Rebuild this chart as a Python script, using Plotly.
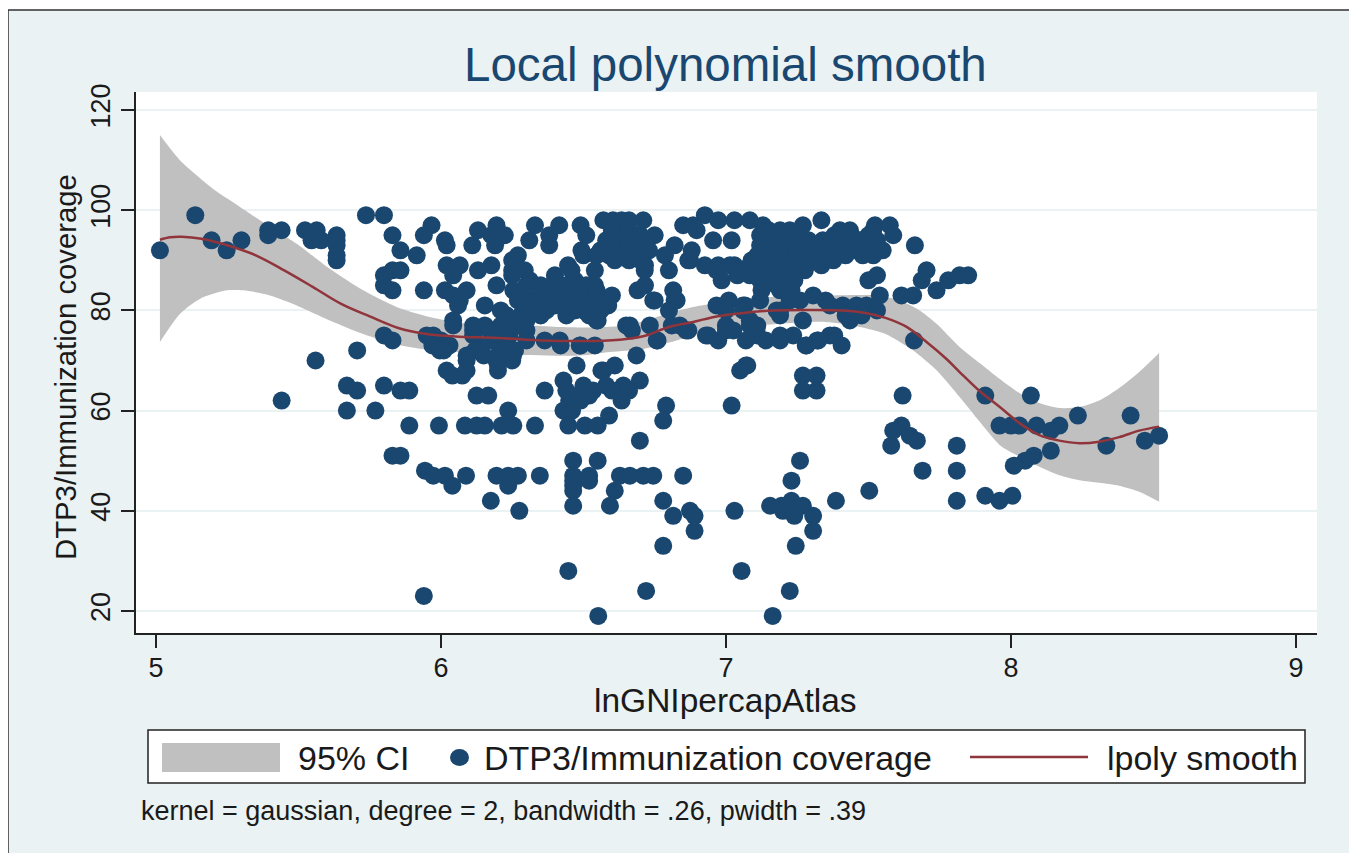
import plotly.graph_objects as go

TITLE = "Local polynomial smooth"
X_TITLE = "lnGNIpercapAtlas"
Y_TITLE = "DTP3/Immunization coverage"
NOTE = "kernel = gaussian, degree = 2, bandwidth = .26, pwidth = .39"
LEGEND_CI = "95% CI"
LEGEND_DOTS = "DTP3/Immunization coverage"
LEGEND_LINE = "lpoly smooth"
x_ticks = [5, 6, 7, 8, 9]
y_ticks = [20, 40, 60, 80, 100, 120]

# lnGNI values of the points, one list per coverage level
c99 = [5.138, 5.737, 5.80, 6.926]
c98 = [6.57, 6.604, 6.634, 6.66, 6.71, 6.973, 7.03, 7.084, 7.335]
c97 = [5.967, 6.195, 6.33, 6.415, 6.49, 6.85, 6.885, 7.13, 7.27, 7.523, 7.575]
c96 = [5.394, 5.441, 5.523, 5.564, 6.13, 6.6, 6.66, 6.897, 7.15, 7.19, 7.224, 7.40, 7.435, 7.517]
c95 = [5.394, 5.634, 5.83, 5.94, 6.177, 6.224, 6.38, 6.51, 6.6, 6.65, 6.7, 6.75, 7.12, 7.13, 7.178, 7.22, 7.25, 7.38, 7.44, 7.5, 7.587]
c94 = [5.195, 5.30, 5.546, 5.58, 5.634, 6.014, 6.31, 6.58, 6.62, 6.68, 6.72, 6.955, 7.02, 7.13, 7.17, 7.21, 7.25, 7.29, 7.34, 7.38, 7.41, 7.47, 7.53]
c93 = [5.634, 6.02, 6.11, 6.19, 6.38, 6.6, 6.66, 6.82, 7.12, 7.166, 7.21, 7.277, 7.32, 7.365, 7.435, 7.47, 7.663]
c92 = [5.014, 5.248, 5.858, 6.493, 6.56, 6.6, 6.65, 6.7, 6.73, 6.88, 7.14, 7.17, 7.21, 7.25, 7.3, 7.34, 7.38, 7.44, 7.49, 7.55]
c91 = [5.634, 5.915, 6.27, 6.5, 6.546, 6.59, 6.63, 6.68, 6.786, 7.11, 7.16, 7.2, 7.24, 7.31, 7.36, 7.42, 7.48, 7.517]
c90 = [5.634, 6.25, 6.61, 6.66, 6.7, 6.868, 6.874, 7.09, 7.142, 7.16, 7.2, 7.24, 7.29, 7.33, 7.377]
c89 = [6.02, 6.066, 6.177, 6.446, 6.716, 6.926, 6.973, 7.014, 7.03, 7.084, 7.107, 7.178, 7.2, 7.236, 7.28, 7.335]
c88 = [5.83, 5.858, 6.13, 6.25, 6.294, 6.458, 6.54, 6.715, 6.80, 6.967, 7.06, 7.1, 7.13, 7.17, 7.2, 7.24, 7.277, 7.704]
c87 = [5.80, 6.043, 6.25, 6.40, 7.04, 7.084, 7.13, 7.178, 7.2, 7.23, 7.53, 7.82, 7.85]
c86 = [6.312, 6.40, 6.47, 6.985, 7.12, 7.16, 7.2, 7.24, 7.50, 7.687, 7.78]
c85 = [5.80, 6.195, 6.3, 6.35, 6.44, 6.47, 6.51, 6.54, 6.716, 7.13, 7.178, 7.2, 7.224]
c84 = [5.83, 5.94, 6.014, 6.09, 6.254, 6.36, 6.417, 6.47, 6.546, 6.69, 6.815, 7.125, 7.19, 7.23, 7.739]
c83 = [6.043, 6.30, 6.36, 6.45, 6.49, 6.54, 6.6, 7.224, 7.306, 7.54, 7.616, 7.657]
c82 = [6.066, 6.27, 6.335, 6.40, 6.46, 6.5, 6.55, 6.745, 6.75, 6.82, 6.827, 7.01, 7.12, 7.224, 7.26, 7.35]
c81 = [6.06, 6.154, 6.31, 6.4, 6.45, 6.52, 6.58, 6.587, 6.967, 7.06, 7.067, 7.365, 7.41, 7.458, 7.493]
c80 = [6.21, 6.29, 6.37, 6.44, 6.47, 6.5, 6.534, 6.56, 6.80, 7.0, 7.06, 7.178, 7.19, 7.53]
c79 = [6.23, 6.28, 6.35, 6.44, 6.52, 7.19, 7.42, 7.476]
c78 = [6.043, 6.25, 6.3, 6.546, 6.55, 7.084, 7.27, 7.435]
c77 = [6.043, 6.113, 6.154, 6.21, 6.28, 6.65, 6.663, 6.733, 6.81, 6.838, 7.0, 7.084, 7.11]
c76 = [6.113, 6.17, 6.23, 6.3, 6.67, 6.86, 6.868, 7.0, 7.026, 7.107]
c75 = [5.80, 5.95, 5.973, 6.113, 6.24, 6.93, 6.938, 7.11, 7.19, 7.236, 7.365, 7.38]
c74 = [5.83, 6.0, 6.18, 6.23, 6.30, 6.364, 6.417, 6.757, 6.76, 6.973, 7.07, 7.14, 7.19, 7.32, 7.324, 7.66]
c73 = [5.97, 6.03, 6.14, 6.42, 6.487, 6.49, 6.54, 7.28, 7.283, 7.406]
c72 = [5.706, 5.996, 6.01, 6.12, 6.224, 6.26]
c71 = [6.09, 6.15, 6.2, 6.253, 6.686]
c70 = [5.56, 6.09, 6.195, 6.25]
c69 = [6.2, 6.476, 6.61, 7.07, 7.075]
c68 = [6.02, 6.09, 6.2, 6.563, 6.57, 7.05]
c67 = [6.04, 6.075, 7.27, 7.318]
c66 = [6.43, 6.698]
c65 = [5.67, 5.80, 6.5, 6.58, 6.64]
c64 = [5.706, 5.858, 5.889, 6.364, 6.44, 6.534, 6.6, 6.66, 7.27, 7.318]
c63 = [6.125, 6.166, 6.48, 6.52, 7.62, 7.91, 8.07]
c62 = [5.441, 6.45, 6.49, 6.634]
c61 = [6.45, 6.79, 7.02]
c60 = [5.67, 5.77, 6.236, 6.43, 6.46]
c59 = [6.59, 8.235, 8.42]
c58 = [6.78]
c57 = [5.889, 5.993, 6.084, 6.125, 6.154, 6.213, 6.254, 6.33, 6.447, 6.505, 6.55, 7.616, 7.96, 8.0, 8.03, 8.09, 8.17]
c56 = [7.587, 8.14]
c55 = [7.645, 8.52]
c54 = [6.698, 7.67, 8.47]
c53 = [7.58, 7.81, 8.335]
c52 = [8.14]
c51 = [5.83, 5.858, 8.08]
c50 = [6.464, 6.55, 7.26, 8.05]
c49 = [8.01]
c48 = [5.944, 7.69, 7.81]
c47 = [5.973, 6.014, 6.088, 6.195, 6.236, 6.27, 6.347, 6.464, 6.52, 6.628, 6.663, 6.71, 6.745, 6.85]
c46 = [6.464, 6.52, 7.23]
c45 = [6.04, 6.236, 6.464]
c44 = [6.464, 6.61, 7.503]
c43 = [7.91, 8.005]
c42 = [6.175, 6.78, 7.23, 7.386, 7.81, 7.96]
c41 = [6.464, 6.593, 7.155, 7.195, 7.27]
c40 = [6.275, 6.874, 7.03, 7.2, 7.23]
c39 = [6.815, 6.89, 7.24, 7.306]
c36 = [6.89, 7.306]
c33 = [6.78, 7.245]
c28 = [6.447, 7.055]
c24 = [6.72, 7.224]
c23 = [5.94]
c19 = [6.552, 7.164]

levels = {99: c99, 98: c98, 97: c97, 96: c96, 95: c95, 94: c94, 93: c93, 92: c92, 91: c91, 90: c90,
          89: c89, 88: c88, 87: c87, 86: c86, 85: c85, 84: c84, 83: c83, 82: c82, 81: c81, 80: c80,
          79: c79, 78: c78, 77: c77, 76: c76, 75: c75, 74: c74, 73: c73, 72: c72, 71: c71, 70: c70,
          69: c69, 68: c68, 67: c67, 66: c66, 65: c65, 64: c64, 63: c63, 62: c62, 61: c61, 60: c60,
          59: c59, 58: c58, 57: c57, 56: c56, 55: c55, 54: c54, 53: c53, 52: c52, 51: c51, 50: c50,
          49: c49, 48: c48, 47: c47, 46: c46, 45: c45, 44: c44, 43: c43, 42: c42, 41: c41, 40: c40,
          39: c39, 36: c36, 33: c33, 28: c28, 24: c24, 23: c23, 19: c19}

smooth_x = [5.014, 5.05, 5.09, 5.16, 5.25, 5.35, 5.45, 5.55, 5.65, 5.75, 5.85, 5.95, 6.05, 6.2, 6.35, 6.4175,
            6.534, 6.65, 6.72, 6.8, 6.885, 6.967, 7.06, 7.166, 7.295, 7.41, 7.49, 7.56, 7.634, 7.704, 7.774,
            7.82, 7.89, 7.961, 8.03, 8.10, 8.17, 8.24, 8.31, 8.38, 8.45, 8.52]
smooth_y = [94.1, 94.6, 94.7, 94.3, 93, 91, 88, 84.7, 81.3, 78.8, 76.5, 75.3, 74.8, 74.5, 74, 73.9,
            73.9, 74.3, 75, 76.7, 77.7, 78.8, 79.5, 80, 80.1, 80, 79.5, 78.5, 76.7, 73.7, 70.3,
            67.7, 63.9, 60.7, 57.5, 55.1, 54, 53.5, 53.8, 54.7, 56, 56.8]
upper_x = [5.014, 5.084, 5.207, 5.26, 5.365, 5.494, 5.61, 5.727, 5.844, 5.96, 6.078, 6.31, 6.42, 6.534, 6.65, 6.72,
           6.8, 6.885, 6.944, 7.06, 7.166, 7.35, 7.53, 7.61, 7.68, 7.74, 7.82, 7.89, 7.961, 8.03, 8.10, 8.17,
           8.24, 8.31, 8.38, 8.45, 8.52]
upper_y = [115, 110, 104, 102, 98, 93.3, 88.3, 84, 80.7, 78.7, 77.5, 77, 76.7, 76.6, 77, 78,
           79.5, 80.7, 81.3, 82.3, 82.7, 83, 83, 82, 80, 77.3, 72.7, 69.5, 66.3, 63.5, 61.5, 60.5,
           60.7, 62, 64.5, 67.7, 71.5]
lower_x = [5.014, 5.084, 5.154, 5.248, 5.306, 5.40, 5.494, 5.61, 5.727, 5.844, 5.96, 6.195, 6.488, 6.593, 6.71, 6.827,
           6.944, 7.06, 7.18, 7.35, 7.47, 7.56, 7.657, 7.74, 7.82, 7.89, 7.961, 8.03, 8.10, 8.17, 8.24, 8.31,
           8.38, 8.45, 8.52]
lower_y = [73.7, 79.3, 82.3, 84, 84, 83, 81, 78, 75.3, 73.2, 72.1, 71.3, 71, 71.7, 72.3, 74,
           76, 76.7, 77.3, 77.7, 76.7, 75.3, 72, 68, 62.7, 57.8, 53.1, 50.8, 48.8, 47.1, 46.1, 45.6,
           45, 43.8, 41.8]

point_x = [x for level, xs in levels.items() for x in xs]
point_y = [level for level, xs in levels.items() for _ in xs]

NAVY = "#1a476f"
GREY = "#c0c0c0"
MAROON = "#90353b"
BG = "#eaf2f3"
INK = "#1a1a1a"
FONT = "Liberation Sans"

PAGE_W, PAGE_H = 1357, 853
PAGE_MARGIN = 8                   # the page body sits 8 px in from the window corner
L, R, T, B = 136, 1317, 92, 633   # plot area in window pixels
px = lambda v: (v - L) / (R - L)
py = lambda v: (B - v) / (B - T)

fig = go.Figure()
fig.add_trace(go.Scatter(x=lower_x, y=lower_y, mode="lines", line=dict(width=0, shape="spline", smoothing=0.7),
                         hoverinfo="skip", showlegend=False))
fig.add_trace(go.Scatter(x=upper_x, y=upper_y, mode="lines", fill="tonexty", fillcolor=GREY,
                         line=dict(width=0, shape="spline", smoothing=0.7),
                         hoverinfo="skip", name=LEGEND_CI, showlegend=False))
fig.add_trace(go.Scatter(x=point_x, y=point_y, mode="markers", name=LEGEND_DOTS, showlegend=False,
                         marker=dict(color=NAVY, size=18, line=dict(width=0))))
fig.add_trace(go.Scatter(x=smooth_x, y=smooth_y, mode="lines", name=LEGEND_LINE, showlegend=False,
                         line=dict(color=MAROON, width=2.5, shape="spline")))


def rect(x0, y0, x1, y1, **kw):
    return dict(type="rect", xref="paper", yref="paper", x0=px(x0), x1=px(x1), y0=py(y0), y1=py(y1), **kw)


def label(x, y, text, size, anchor="left", color=INK):
    return dict(xref="paper", yref="paper", x=px(x), y=py(y), text=text, showarrow=False, xanchor=anchor,
                yanchor="middle", font=dict(family=FONT, size=size, color=color))


shapes = [
    rect(8, 10, 1353, 860, fillcolor=BG, line=dict(color="#333333", width=1.5), layer="below"),
    rect(L, T, R, B, fillcolor="white", line=dict(width=0), layer="below"),
    rect(148, 730, 1305, 783, fillcolor="white", line=dict(color="#222222", width=1.5)),
    rect(162, 743, 280, 772, fillcolor=GREY, line=dict(width=0)),
    dict(type="circle", xref="paper", yref="paper", x0=px(450), x1=px(469), y0=py(749), y1=py(766),
         fillcolor=NAVY, line=dict(width=0)),
    dict(type="line", xref="paper", yref="paper", x0=px(970), x1=px(1088), y0=py(757), y1=py(757),
         line=dict(color=MAROON, width=2.5)),
]
annotations = [
    label(296, 758, LEGEND_CI, 34),
    label(482, 758, LEGEND_DOTS, 34),
    label(1105, 758, LEGEND_LINE, 34),
    label(139, 811, NOTE, 27),
    label(725.5, 64, TITLE, 47.5, "center", NAVY),
    label(725.5, 700, X_TITLE, 33.5, "center"),
    dict(xref="paper", yref="paper", x=px(65), y=py(367), text=Y_TITLE, textangle=-90, showarrow=False,
         xanchor="center", yanchor="middle", font=dict(family=FONT, size=29.3, color=INK)),
]

fig.update_layout(
    width=PAGE_W - PAGE_MARGIN, height=PAGE_H - PAGE_MARGIN, autosize=False, showlegend=False,
    paper_bgcolor="white", plot_bgcolor="rgba(0,0,0,0)",
    margin=dict(l=L - PAGE_MARGIN, r=PAGE_W - R, t=T - PAGE_MARGIN, b=PAGE_H - B, pad=0),
    font=dict(family=FONT, color=INK),
    shapes=shapes, annotations=annotations,
    xaxis=dict(range=[4.93, 9.074], tickvals=x_ticks, ticks="outside", ticklen=13, tickwidth=1.5, tickcolor="#222222",
               showgrid=False, zeroline=False, showline=True, linecolor="#222222", linewidth=1.5,
               ticklabelstandoff=-3, tickfont=dict(size=27, color=INK, family=FONT)),
    yaxis=dict(range=[15.6, 123.6], tickvals=y_ticks, ticks="outside", ticklen=13, tickwidth=1.5, tickcolor="#222222",
               showgrid=True, gridcolor=BG, gridwidth=2, zeroline=False, showline=True, linecolor="#222222",
               linewidth=1.5, tickangle=-90, tickfont=dict(size=27, color=INK, family=FONT)),
)

fig.write_html("out.html")
